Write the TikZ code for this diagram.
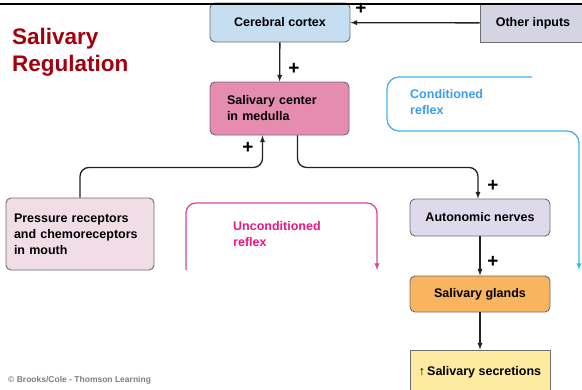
\documentclass[tikz,border=0pt]{standalone}
\usepackage{fontspec}
\setmainfont{Liberation Sans}
\definecolor{boxline}{HTML}{6E6E6E}
\definecolor{arrowgray}{HTML}{222222}
\definecolor{cortexblue}{HTML}{C6DEF2}
\definecolor{othergray}{HTML}{D4D4E2}
\definecolor{centerpink}{HTML}{E68CB1}
\definecolor{receptorpink}{HTML}{F1DDE6}
\definecolor{nervelilac}{HTML}{DEDAEC}
\definecolor{glandorange}{HTML}{F8B45E}
\definecolor{secretionyellow}{HTML}{FDEBA2}
\definecolor{titlered}{HTML}{A3000E}
\definecolor{reflexmagenta}{HTML}{D9449E}
\definecolor{uncondtext}{HTML}{F0157F}
\definecolor{reflexblue}{HTML}{45B4E6}
\definecolor{condtext}{HTML}{3A9CF5}

\begin{document}
\begin{tikzpicture}[x=1pt,y=-1pt,
    box/.style={draw=boxline,line width=0.9pt,rounded corners=5pt,inner sep=0pt,
        font=\bfseries\fontsize{12.5}{16}\selectfont},
    arr/.style={->,>=latex,line width=1.3pt,draw=arrowgray},
    plus/.style={inner sep=0pt,font=\bfseries\fontsize{19}{19}\selectfont},
    reflex/.style={->,>=latex,line width=1.3pt},
    label/.style={anchor=north west,inner sep=0pt,align=left,
        font=\bfseries\fontsize{12.5}{16}\selectfont}]
    \useasboundingbox (0,0) rectangle (582,389);

    % boxes
    \node[box,fill=cortexblue,minimum width=140,minimum height=39] (cortex) at (280,22.5) {Cerebral cortex};
    \node[box,rounded corners=0pt,fill=othergray,minimum width=106,minimum height=38] (other) at (533,23) {Other inputs};
    \node[box,fill=centerpink,minimum width=139,minimum height=53,text width=105,align=left] (center) at (279.5,108.5) {Salivary center\\in medulla};
    \node[box,fill=receptorpink,minimum width=148,minimum height=72,text width=132,align=left] (receptors) at (80,234) {Pressure receptors\\and chemoreceptors\\in mouth};
    \node[box,fill=nervelilac,minimum width=140,minimum height=37] (nerves) at (480,217.5) {Autonomic nerves};
    \node[box,fill=glandorange,minimum width=140,minimum height=36] (glands) at (480,294) {Salivary glands};
    \node[box,rounded corners=0pt,fill=secretionyellow,minimum width=140,minimum height=44] (secretions) at (480,372) {↑\,Salivary secretions};

    \draw[line width=2.5pt] (0,4) -- (582,4);

    % arrows
    \draw[arr] (other) -- (cortex);
    \draw[arr] (cortex) -- (center);
    \draw[arr,rounded corners=9] (receptors.north) |- ([xshift=-17,yshift=-32]center.south) -- ([xshift=-17]center.south);
    \draw[arr,rounded corners=9] ([xshift=18]center.south) -- ++(0,32) -| ([xshift=-2]nerves.north);
    \draw[arr] (nerves) -- (glands);
    \draw[arr] (glands) -- (secretions);

    \node[plus] (plus1) at (361,9) {+};
    \node[plus] (plus2) at (294,69) {+};
    \node[plus] (plus3) at (248,148) {+};
    \node[plus] (plus4) at (493,186) {+};
    \node[plus] (plus5) at (493,262) {+};

    % reflexes
    \coordinate (ustart) at (186,270);
    \coordinate (uend) at (377,270);
    \draw[reflex,draw=reflexmagenta,rounded corners=10] (ustart) |- (283,203) -| (uend);
    \node[label,text=uncondtext] (uncond) at (233,221) {Unconditioned\\reflex};

    \coordinate (cstart) at (532,77);
    \coordinate (cend) at (579,270);
    \draw[reflex,draw=reflexblue,rounded corners=12] (cstart) -- (387,77) -- (387,131) -| (cend);
    \node[label,text=condtext] (cond) at (410,89) {Conditioned\\reflex};

    % title and credit
    \node[anchor=north west,inner sep=0pt,align=left,text=titlered,font=\bfseries\fontsize{22.5}{27}\selectfont] (title) at (12,28) {Salivary\\Regulation};
    \node[anchor=west,inner sep=0pt,text=gray,font=\bfseries\fontsize{8.5}{9}\selectfont] (credit) at (8,380) {© Brooks/Cole - Thomson Learning};
\end{tikzpicture}
\end{document}
